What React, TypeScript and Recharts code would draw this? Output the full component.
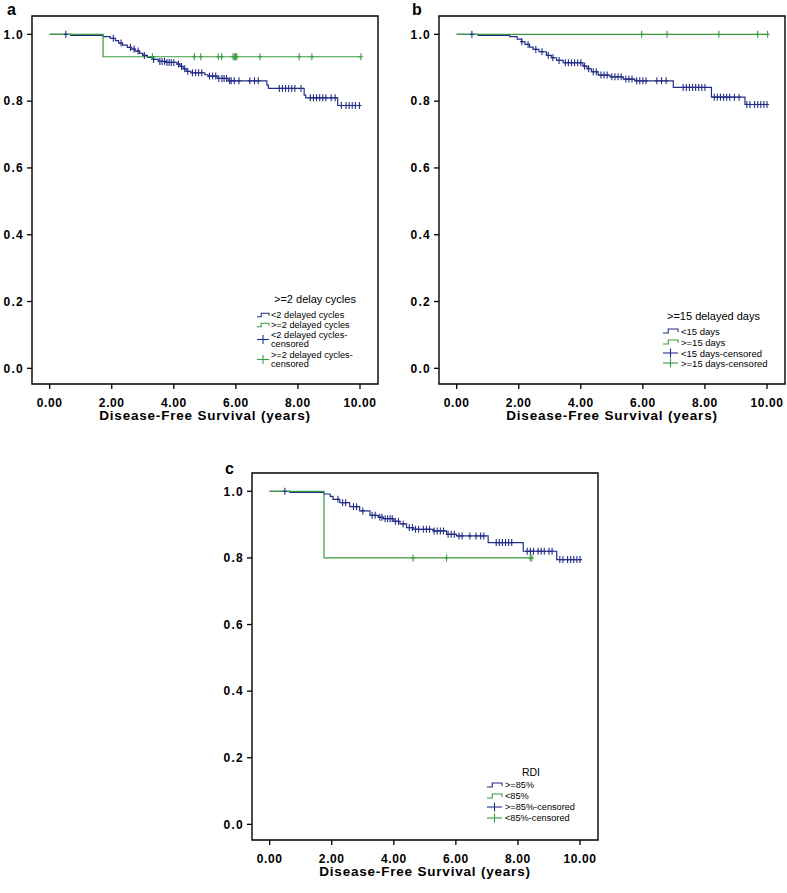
import React from 'react';
import { ComposedChart, Line, Scatter, XAxis, YAxis, ReferenceArea, Label } from 'recharts';

const FONT = "'Liberation Sans', Arial, sans-serif";
const BLUE = '#232f86';
const GREEN = '#3a9c3f';

const X_TICKS = [0, 2, 4, 6, 8, 10];
const Y_TICKS = [0, 0.2, 0.4, 0.6, 0.8, 1.0];
const X_DOMAIN: [number, number] = [-0.57, 10.58];
const Y_DOMAIN: [number, number] = [-0.047, 1.055];
const X_TITLE = 'Disease-Free Survival (years)';

// Panel a: >=2 delay cycles
const A_BLUE_STEPS = [
  [0, 1.0], [0.68, 0.997], [1.72, 0.993], [1.95, 0.988], [2.12, 0.981], [2.22, 0.974], [2.35, 0.968],
  [2.5, 0.961], [2.62, 0.956], [2.75, 0.95], [2.9, 0.943], [3.0, 0.937], [3.15, 0.931], [3.3, 0.925],
  [3.5, 0.919], [3.75, 0.916], [4.1, 0.911], [4.2, 0.904], [4.3, 0.897], [4.4, 0.889], [4.55, 0.885],
  [5.0, 0.879], [5.1, 0.875], [5.4, 0.868], [5.75, 0.861], [7.0, 0.848], [7.05, 0.838], [8.2, 0.818],
  [8.25, 0.81], [9.28, 0.787], [9.98, 0.787],
];
const A_BLUE_CENSORED = [
  0.52, 2.05, 2.3, 2.6, 2.72, 2.85, 3.05, 3.35, 3.55, 3.62, 3.7, 3.78, 3.85, 3.92, 4.0, 4.15, 4.25,
  4.35, 4.45, 4.6, 4.7, 4.8, 4.9, 5.15, 5.25, 5.35, 5.45, 5.55, 5.62, 5.7, 5.8, 5.85, 5.95, 6.1, 6.45,
  6.6, 6.72, 7.4, 7.5, 7.6, 7.7, 7.8, 7.9, 8.1, 8.4, 8.5, 8.6, 8.7, 8.8, 8.9, 9.07, 9.2, 9.4, 9.55,
  9.65, 9.75, 9.85, 9.98,
];
const A_GREEN_STEPS = [[0, 1.0], [1.72, 0.933], [10.03, 0.933]];
const A_GREEN_CENSORED = [3.31, 4.66, 4.87, 5.43, 5.54, 5.91, 5.96, 5.99, 6.03, 6.78, 8.04, 8.45, 10.03];
const A_LEGEND_TITLE = '>=2 delay cycles';
const A_LEGEND_LABELS = [['<2 delayed cycles'], ['>=2 delayed cycles'], ['<2 delayed cycles-', 'censored'], ['>=2 delayed cycles-', 'censored']];

// Panel b: >=15 delayed days
const B_BLUE_STEPS = [
  [0, 1.0], [0.69, 0.997], [1.71, 0.993], [1.95, 0.986], [2.09, 0.978], [2.2, 0.97], [2.35, 0.962],
  [2.46, 0.955], [2.65, 0.948], [2.89, 0.937], [3.05, 0.93], [3.22, 0.922], [3.43, 0.915], [4.07, 0.905],
  [4.2, 0.897], [4.34, 0.888], [4.56, 0.878], [4.94, 0.873], [5.37, 0.866], [5.74, 0.861], [6.98, 0.841],
  [8.21, 0.812], [9.29, 0.79], [10.04, 0.79],
];
const B_BLUE_CENSORED = [
  0.49, 2.1, 2.3, 2.55, 2.75, 2.95, 3.1, 3.3, 3.5, 3.6, 3.7, 3.8, 3.9, 4.0, 4.12, 4.25, 4.4, 4.5, 4.65,
  4.75, 4.85, 5.0, 5.1, 5.2, 5.3, 5.45, 5.55, 5.65, 5.8, 5.9, 6.0, 6.1, 6.45, 6.6, 6.75, 7.3, 7.4,
  7.5, 7.6, 7.7, 7.8, 7.9, 8.0, 8.3, 8.4, 8.5, 8.6, 8.7, 8.8, 8.95, 9.1, 9.35, 9.45, 9.6, 9.7, 9.8,
  9.9, 10.0,
];
const B_GREEN_STEPS = [[0, 1.0], [10.02, 1.0]];
const B_GREEN_CENSORED = [5.96, 6.78, 8.45, 9.7, 10.02];
const B_LEGEND_TITLE = '>=15 delayed days';
const B_LEGEND_LABELS = [['<15 days'], ['>=15 days'], ['<15 days-censored'], ['>=15 days-censored']];

// Panel c: RDI
const C_BLUE_STEPS = [
  [0, 1.0], [0.65, 0.997], [1.74, 0.992], [1.95, 0.985], [2.04, 0.976], [2.26, 0.966], [2.58, 0.954],
  [2.9, 0.941], [3.23, 0.928], [3.5, 0.922], [3.66, 0.918], [4.0, 0.91], [4.2, 0.902], [4.41, 0.891],
  [4.62, 0.886], [5.27, 0.881], [5.7, 0.871], [6.02, 0.866], [7.04, 0.846], [8.17, 0.82], [9.25, 0.795],
  [10.05, 0.795],
];
const C_BLUE_CENSORED = [
  0.49, 2.2, 2.35, 2.45, 2.7, 2.8, 3.0, 3.3, 3.4, 3.55, 3.62, 3.72, 3.8, 3.88, 3.95, 4.05, 4.15, 4.3,
  4.5, 4.6, 4.7, 4.8, 4.95, 5.05, 5.15, 5.3, 5.4, 5.5, 5.6, 5.75, 5.85, 5.95, 6.1, 6.2, 6.45, 6.65,
  6.8, 6.9, 7.3, 7.4, 7.5, 7.6, 7.7, 7.8, 8.3, 8.4, 8.5, 8.65, 8.75, 8.85, 9.0, 9.1, 9.35, 9.45, 9.6,
  9.7, 9.8, 9.9, 10.0,
];
const C_GREEN_STEPS = [[0, 1.0], [1.75, 0.8], [8.45, 0.8]];
const C_GREEN_CENSORED = [4.62, 5.7, 8.4, 8.45];
const C_LEGEND_TITLE = 'RDI';
const C_LEGEND_LABELS = [['>=85%'], ['<85%'], ['>=85%-censored'], ['<85%-censored']];

const toPoints = (steps: number[][]) => steps.map(([x, y]) => ({ x, y }));
const survAt = (steps: number[][], t: number) => {
  let v = steps[0][1];
  for (const [x, y] of steps) if (x <= t) v = y;
  return v;
};
const censorPoints = (steps: number[][], times: number[]) => times.map((t) => ({ x: t, y: survAt(steps, t) }));

const makeCross = (color: string) => (props: any) => {
  const { cx, cy } = props;
  if (cx == null || cy == null) return <g />;
  return (
    <g>
      <line x1={cx} y1={cy - 3.5} x2={cx} y2={cy + 3.5} stroke={color} strokeWidth={1.1} />
      <line x1={cx - 2} y1={cy} x2={cx + 2} y2={cy} stroke={color} strokeWidth={1.1} />
    </g>
  );
};

type LegendCfg = {
  title: string;
  titleX: number;
  titleY: number;
  titleAnchor: 'start' | 'middle';
  titleSize: number;
  labels: string[][];
  itemYs: number[][];
  iconX: number;
  iconW: number;
  iconH: number;
  textX: number;
  fontSize: number;
};

function LegendOverlay({ cfg, width, height, letter }: { cfg: LegendCfg; width: number; height: number; letter: { t: string; x: number; y: number } }) {
  const colors = [BLUE, GREEN, BLUE, GREEN];
  return (
    <svg width={width} height={height} style={{ position: 'absolute', left: 0, top: 0, pointerEvents: 'none' }}>
      <text x={letter.x} y={letter.y} fontFamily={FONT} fontWeight="bold" fontSize={16} fill="#000">{letter.t}</text>
      <text x={cfg.titleX} y={cfg.titleY} textAnchor={cfg.titleAnchor} dominantBaseline="central" fontFamily={FONT} fontSize={cfg.titleSize} fill="#000">{cfg.title}</text>
      {cfg.labels.map((lines, i) => {
        const ys = cfg.itemYs[i];
        const mid = (ys[0] + ys[ys.length - 1]) / 2;
        const c = colors[i];
        const x0 = cfg.iconX;
        const w = cfg.iconW;
        const h = cfg.iconH;
        return (
          <g key={i}>
            {i < 2 ? (
              <path d={`M${x0},${mid + h / 2} H${x0 + w * 0.35} V${mid - h / 2} H${x0 + w} V${mid + h / 2 - 1}`} fill="none" stroke={c} strokeWidth={1.1} />
            ) : (
              <g>
                <line x1={x0} y1={mid} x2={x0 + w} y2={mid} stroke={c} strokeWidth={1.1} />
                <line x1={x0 + w / 2} y1={mid - 4.5} x2={x0 + w / 2} y2={mid + 4.5} stroke={c} strokeWidth={1.1} />
              </g>
            )}
            {lines.map((ln, j) => (
              <text key={j} x={cfg.textX} y={ys[j]} dominantBaseline="central" fontFamily={FONT} fontSize={cfg.fontSize} fill="#000">{ln}</text>
            ))}
          </g>
        );
      })}
    </svg>
  );
}

type PanelProps = {
  left: number; top: number; width: number; height: number;
  margin: { top: number; right: number; bottom: number; left: number };
  blue: number[][]; blueCens: number[];
  green: number[][]; greenCens: number[];
  legend: LegendCfg;
  letter: { t: string; x: number; y: number };
};

function Panel(p: PanelProps) {
  const xTickStyle = { fill: '#000', fontSize: 12, fontWeight: 700, fontFamily: FONT, letterSpacing: 0.6 };
  const yTickStyle = { fill: '#000', fontSize: 12, fontWeight: 700, fontFamily: FONT, letterSpacing: 1.3 };
  return (
    <div style={{ position: 'absolute', left: p.left, top: p.top, width: p.width, height: p.height }}>
      <ComposedChart width={p.width} height={p.height} margin={p.margin}>
        <XAxis
          type="number" dataKey="x" domain={X_DOMAIN} allowDataOverflow ticks={X_TICKS} interval={0}
          tickFormatter={(v: number) => v.toFixed(2)} axisLine={false}
          tickLine={{ stroke: '#000', strokeWidth: 1.3 }} tickSize={5} tickMargin={9} height={30} tick={xTickStyle}
        >
          <Label
            content={(props: any) => {
              const vb = props.viewBox || {};
              return (
                <text x={vb.x + vb.width / 2} y={vb.y + vb.height + 6} textAnchor="middle" fontFamily={FONT} fontWeight="bold" fontSize={13.5} letterSpacing={0.8} fill="#000">
                  {X_TITLE}
                </text>
              );
            }}
          />
        </XAxis>
        <YAxis
          type="number" domain={Y_DOMAIN} allowDataOverflow ticks={Y_TICKS} interval={0}
          tickFormatter={(v: number) => v.toFixed(1)} axisLine={false}
          tickLine={{ stroke: '#000', strokeWidth: 1.3 }} tickSize={5} tickMargin={3} width={30} tick={yTickStyle}
        />
        <ReferenceArea x1={X_DOMAIN[0]} x2={X_DOMAIN[1]} y1={Y_DOMAIN[0]} y2={Y_DOMAIN[1]} fill="#fff" fillOpacity={0} stroke="#000" strokeWidth={1.4} ifOverflow="visible" />
        <Line data={toPoints(p.blue)} dataKey="y" type="stepAfter" stroke={BLUE} strokeWidth={1.2} dot={false} isAnimationActive={false} />
        <Line data={toPoints(p.green)} dataKey="y" type="stepAfter" stroke={GREEN} strokeWidth={1.2} dot={false} isAnimationActive={false} />
        <Scatter data={censorPoints(p.blue, p.blueCens)} dataKey="y" shape={makeCross(BLUE)} isAnimationActive={false} />
        <Scatter data={censorPoints(p.green, p.greenCens)} dataKey="y" shape={makeCross(GREEN)} isAnimationActive={false} />
      </ComposedChart>
      <LegendOverlay cfg={p.legend} width={p.width} height={p.height} letter={p.letter} />
    </div>
  );
}

export default function App() {
  return (
    <div style={{ position: 'absolute', left: 0, top: 0, width: 787, height: 893, background: '#fff' }}>
      <Panel
        left={0} top={0} width={390} height={440}
        margin={{ top: 16, right: 12, bottom: 26, left: 2 }}
        blue={A_BLUE_STEPS} blueCens={A_BLUE_CENSORED} green={A_GREEN_STEPS} greenCens={A_GREEN_CENSORED}
        letter={{ t: 'a', x: 7, y: 15 }}
        legend={{
          title: A_LEGEND_TITLE, titleX: 274, titleY: 299, titleAnchor: 'start', titleSize: 11,
          labels: A_LEGEND_LABELS, itemYs: [[315], [325], [335, 344], [355, 364]],
          iconX: 257, iconW: 12, iconH: 3.5, textX: 271, fontSize: 9.2,
        }}
      />
      <Panel
        left={390} top={0} width={397} height={440}
        margin={{ top: 16, right: 2, bottom: 26, left: 19 }}
        blue={B_BLUE_STEPS} blueCens={B_BLUE_CENSORED} green={B_GREEN_STEPS} greenCens={B_GREEN_CENSORED}
        letter={{ t: 'b', x: 22, y: 15 }}
        legend={{
          title: B_LEGEND_TITLE, titleX: 277, titleY: 316, titleAnchor: 'start', titleSize: 11,
          labels: B_LEGEND_LABELS, itemYs: [[331], [342], [353], [363]],
          iconX: 273, iconW: 15, iconH: 4, textX: 291, fontSize: 9.5,
        }}
      />
      <Panel
        left={180} top={440} width={430} height={453}
        margin={{ top: 33, right: 12, bottom: 23, left: 42 }}
        blue={C_BLUE_STEPS} blueCens={C_BLUE_CENSORED} green={C_GREEN_STEPS} greenCens={C_GREEN_CENSORED}
        letter={{ t: 'c', x: 45, y: 34 }}
        legend={{
          title: C_LEGEND_TITLE, titleX: 351, titleY: 332, titleAnchor: 'middle', titleSize: 10.5,
          labels: C_LEGEND_LABELS, itemYs: [[345], [356], [367], [378]],
          iconX: 307, iconW: 15, iconH: 4, textX: 325, fontSize: 9.2,
        }}
      />
    </div>
  );
}
